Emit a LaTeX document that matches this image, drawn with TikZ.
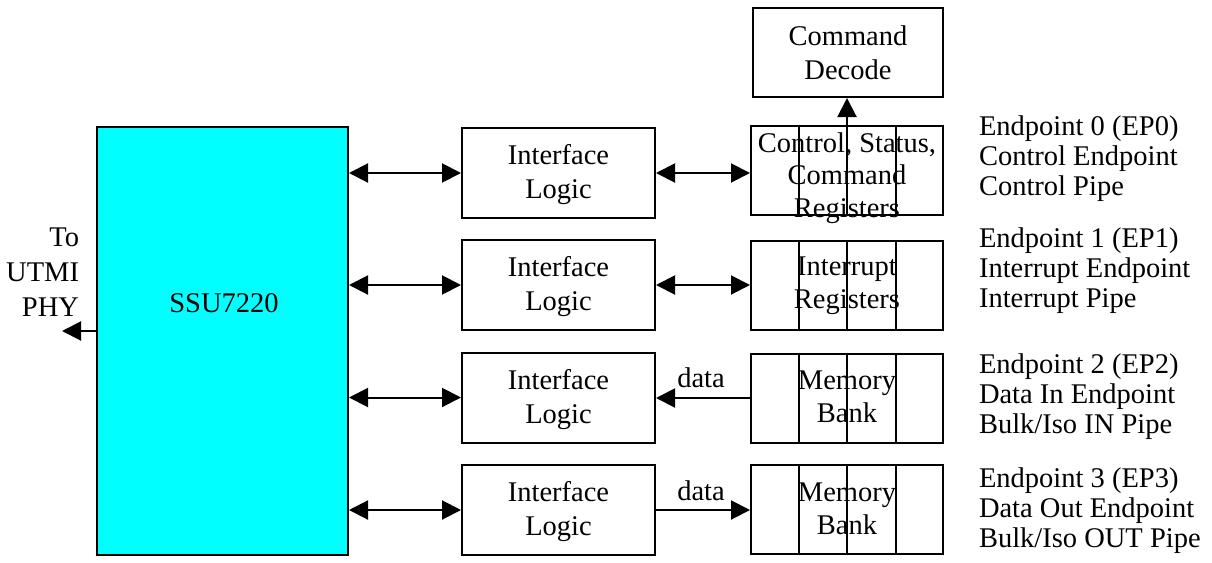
\documentclass[tikz,border=0pt]{standalone}
\usepackage{fontspec}
\setmainfont{Liberation Serif}
\usetikzlibrary{arrows.meta,calc}
\definecolor{ssucyan}{RGB}{0,255,255}
\begin{document}
\begin{tikzpicture}[x=1pt,y=-1pt,line width=2pt,
  box/.style={draw,line width=2pt,inner sep=0pt,minimum width=#1},
  txt/.style={align=center,inner sep=0pt,font=\fontsize{28.5}{33}\selectfont},
  lbl/.style={align=left,anchor=west,inner sep=0pt,font=\fontsize{28.5}{30}\selectfont},
  tip/.tip={Triangle[length=19pt,width=19pt]},
  arr/.style={-tip},
  darr/.style={tip-tip}]
\useasboundingbox (0,0) rectangle (1212,562);

% main block
\node[box=251pt,minimum height=428pt,fill=ssucyan] (ssu) at (222.5,341) {};
\node[txt] (ssut) at (224,303) {SSU7220};
\node[txt,align=right,anchor=east,font=\fontsize{28.5}{35}\selectfont] (utmi) at (80,272) {To\\UTMI\\PHY};
\coordinate (phy) at (62,331);
\draw[arr] (ssu.west |- phy) -- (phy);

% command decode
\node[box=190pt,minimum height=89pt] (cmd) at (848,52.5) {};
\node[txt,font=\fontsize{28.5}{34}\selectfont] (cmdt) at (848,53) {Command\\Decode};

% interface logic boxes
\foreach \i/\y in {1/173,2/285,3/397.5,4/510}{
  \node[box=193pt,minimum height=90pt] (il\i) at (558.5,\y) {};
  \node[txt,font=\fontsize{28.5}{34}\selectfont] (ilt\i) at (558.5,\y+2) {Interface\\Logic};
}

% register boxes
\foreach \i/\y in {1/170.5,2/285.5,3/398,4/509.5}{
  \node[box=192pt,minimum height=89pt] (reg\i) at (847,\y) {};
  \foreach \f in {0.25,0.5,0.75}{
    \draw ($(reg\i.north west)!\f!(reg\i.north east)$) -- ($(reg\i.south west)!\f!(reg\i.south east)$);
  }
}
\node[txt,font=\fontsize{28.5}{32.5}\selectfont] (regt1) at (847,178) {Control, Status,\\Command\\Registers};
\node[txt,font=\fontsize{28.5}{33}\selectfont] (regt2) at (847,285.5) {Interrupt\\Registers};
\node[txt,font=\fontsize{28.5}{33}\selectfont] (regt3) at (847,397) {Memory\\Bank};
\node[txt,font=\fontsize{28.5}{33}\selectfont] (regt4) at (847,509) {Memory\\Bank};

% connectors ssu <-> interface
\foreach \i in {1,2,3,4}{
  \draw[darr] (ssu.east |- il\i.west) -- (il\i.west);
}
% interface <-> registers
\draw[darr] (il1.east) -- (reg1.west |- il1.east);
\draw[darr] (il2.east) -- (reg2.west |- il2.east);
\draw[arr] (reg3.west) -- (il3.east |- reg3.west);
\draw[arr] (il4.east) -- (reg4.west |- il4.east);
\node[txt] (d3) at (701,378) {data};
\node[txt] (d4) at (701,491) {data};

% to command decode
\draw[arr] (reg1.north) -- (cmd.south -| reg1.north);

% endpoint labels
\node[lbl] (ep0) at (978,158.5) {Endpoint 0 (EP0)\\Control Endpoint\\Control Pipe};
\node[lbl] (ep1) at (978,270.5) {Endpoint 1 (EP1)\\Interrupt Endpoint\\Interrupt Pipe};
\node[lbl] (ep2) at (978,397) {Endpoint 2 (EP2)\\Data In Endpoint\\Bulk/Iso IN Pipe};
\node[lbl] (ep3) at (978,510.5) {Endpoint 3 (EP3)\\Data Out Endpoint\\Bulk/Iso OUT Pipe};
\end{tikzpicture}
\end{document}
